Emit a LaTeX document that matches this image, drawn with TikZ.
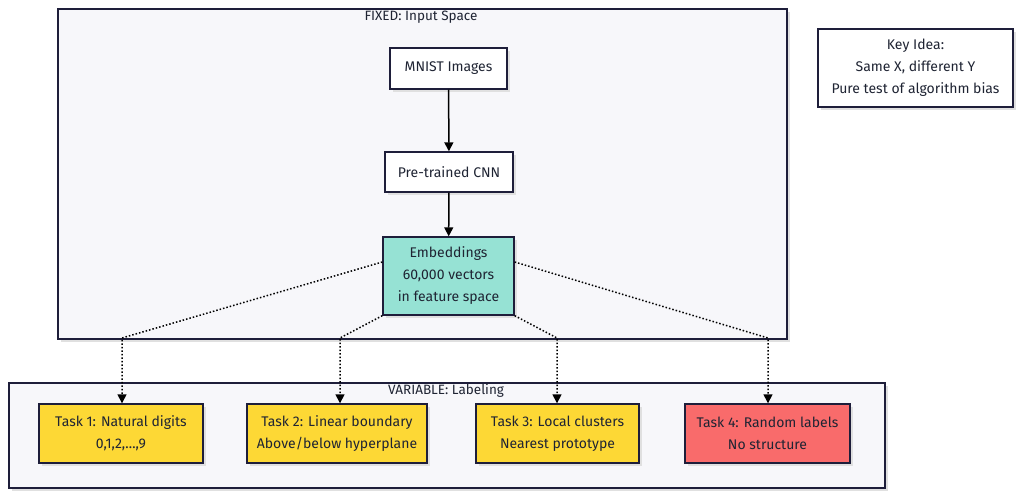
\documentclass[tikz,border=0pt]{standalone}
\usepackage{fontspec}
\setmainfont{Fira Sans}
\usetikzlibrary{shadows,arrows.meta}
\definecolor{edge}{HTML}{1E1E3A}
\definecolor{panel}{HTML}{F7F7FA}
\definecolor{teal}{HTML}{96E2D4}
\definecolor{yel}{HTML}{FDD835}
\definecolor{red}{HTML}{F96B6B}
\definecolor{txt}{HTML}{1F2433}
\tikzset{
  shad/.style={drop shadow={shadow xshift=3pt,shadow yshift=-3pt,fill=black!12,opacity=1}},
  container/.style={draw=edge,line width=1.6pt,fill=panel,shad},
  box/.style={draw=edge,line width=1.4pt,fill=white,shad,text=txt,align=center,font=\fontsize{14}{22}\selectfont,inner sep=0pt},
  ttl/.style={text=txt,font=\fontsize{13.5}{16}\selectfont},
  solidarrow/.style={line width=1.5pt,draw=black,-{Triangle[length=9pt,width=9pt]}},
  dotarrow/.style={line width=1.5pt,draw=black,dotted,-{Triangle[length=9pt,width=9pt]}},
}
\begin{document}
\begin{tikzpicture}[x=1pt,y=-1pt]
\useasboundingbox (0,0) rectangle (1024,494);
% containers
\node[container,minimum width=729pt,minimum height=330pt,anchor=north west,inner sep=0pt] (fixed) at (57,8) {};
\node[ttl] (fixedttl) at (421,17) {FIXED: Input Space};
\node[container,minimum width=876pt,minimum height=105pt,anchor=north west,inner sep=0pt] (var) at (8,382) {};
\node[ttl] (varttl) at (446,391) {VARIABLE: Labeling};
% top nodes
\node[box,minimum width=117pt,minimum height=41pt] (mnist) at (448.5,68.5) {MNIST Images};
\node[box,minimum width=128pt,minimum height=40pt] (cnn) at (449,172) {Pre-trained CNN};
\node[box,fill=teal,minimum width=131pt,minimum height=78pt] (emb) at (448.5,276) {Embeddings\\60,000 vectors\\in feature space};
\node[box,minimum width=195pt,minimum height=78pt] (key) at (915.5,68) {Key Idea:\\Same X, different Y\\Pure test of algorithm bias};
% tasks
\node[box,fill=yel,minimum width=164pt,minimum height=59pt] (t1) at (121,433.5) {Task 1: Natural digits\\0,1,2,\dots,9};
\node[box,fill=yel,minimum width=180pt,minimum height=59pt] (t2) at (337,433.5) {Task 2: Linear boundary\\Above/below hyperplane};
\node[box,fill=yel,minimum width=163pt,minimum height=59pt] (t3) at (557.5,433.5) {Task 3: Local clusters\\Nearest prototype};
\node[box,fill=red,minimum width=165pt,minimum height=59pt] (t4) at (767.5,433.5) {Task 4: Random labels\\No structure};
% solid arrows
\draw[solidarrow] (mnist) -- (cnn);
\draw[solidarrow] (cnn) -- (emb);
% dotted connectors
\coordinate (b1) at (122,338);
\coordinate (b2) at (340,338);
\coordinate (b3) at (557,338);
\coordinate (b4) at (768,338);
\draw[dotarrow] ([yshift=14pt]emb.west) -- (b1) -- (t1.north -| b1);
\draw[dotarrow] (emb.south west) -- (b2) -- (t2.north -| b2);
\draw[dotarrow] (emb.south east) -- (b3) -- (t3.north -| b3);
\draw[dotarrow] ([yshift=14pt]emb.east) -- (b4) -- (t4.north -| b4);
\end{tikzpicture}
\end{document}
